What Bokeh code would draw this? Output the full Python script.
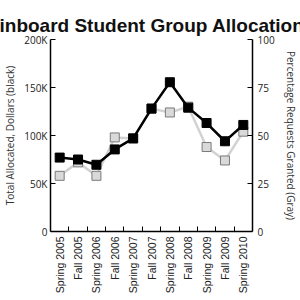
from bokeh.plotting import figure
from bokeh.models import (Range1d, LinearAxis, FixedTicker, CustomJSTickFormatter, Title)
from bokeh.embed import file_html
from bokeh.resources import INLINE

terms = ["Spring 2005", "Fall 2005", "Spring 2006", "Fall 2006", "Spring 2007", "Fall 2007",
         "Spring 2008", "Fall 2008", "Spring 2009", "Fall 2009", "Spring 2010"]
allocated = [77000, 75000, 69500, 85500, 97000, 128000, 155500, 129000, 113000, 94000, 111000]
granted_pct = [29, 36, 29, 49, 48.5, 64, 62, 65, 44, 37, 52]
title_text = "Finboard Student Group Allocations"

x = list(range(len(terms)))

p = figure(width=300, height=300, output_backend="svg", toolbar_location=None,
           x_range=Range1d(-0.5, len(terms) - 0.5), y_range=Range1d(0, 200000),
           min_border_left=34, min_border_right=34, min_border_top=39, min_border_bottom=69)
p.outline_line_color = None
p.xgrid.visible = False
p.ygrid.visible = False
p.background_fill_color = "white"

p.extra_y_ranges = {"pct": Range1d(0, 100)}

t = Title(text=title_text, align="center", vertical_align="top", standoff=4,
          text_font="Liberation Sans", text_font_style="bold",
          text_font_size="19px", text_color="#111111")
p.add_layout(t, "above")

# spacer between frame and title (invisible)
spacer = Title(text=" ", standoff=10, text_font_size="1px", text_color=None)
p.add_layout(spacer, "above")

# gray series on right axis
p.line(x, granted_pct, y_range_name="pct", line_color="#d2d2d2", line_width=2.5)
p.scatter(x, granted_pct, y_range_name="pct", marker="square", size=9,
          fill_color="#d9d9d9", line_color="#7a7a7a", line_width=1)

# black series on left axis
p.line(x, allocated, line_color="black", line_width=2.5)
p.scatter(x, allocated, marker="square", size=9, fill_color="black", line_color="black")

# x axis
xa = p.xaxis[0]
xa.ticker = FixedTicker(ticks=x, minor_ticks=[i + 0.5 for i in x[:-1]])
xa.major_label_overrides = {i: t for i, t in enumerate(terms)}
xa.major_label_orientation = 1.5708
xa.major_tick_in = 0
xa.major_tick_out = 0
xa.minor_tick_in = 5
xa.minor_tick_out = 0
xa.minor_tick_line_color = "black"
xa.axis_line_color = "black"
xa.axis_line_width = 1.5
xa.major_label_text_font = "Liberation Sans"
xa.major_label_text_font_size = "10.5px"
xa.major_label_text_color = "#222222"
xa.major_label_standoff = 5

# left axis
ya = p.yaxis[0]
ya.ticker = FixedTicker(ticks=[0, 50000, 100000, 150000, 200000])
ya.formatter = CustomJSTickFormatter(code="return tick == 0 ? '0' : (tick/1000) + 'K';")
ya.axis_label = "Total Allocated, Dollars (black)"
ya.axis_label_text_font = "Open Sans"
ya.axis_label_text_font_style = "normal"
ya.axis_label_text_font_size = "10px"
ya.axis_label_text_color = "#333333"
ya.axis_label_standoff = 4
ya.major_tick_in = 5
ya.major_tick_out = 0
ya.minor_tick_line_color = None
ya.axis_line_color = "black"
ya.axis_line_width = 1.5
ya.major_label_text_font = "Open Sans"
ya.major_label_text_font_size = "10px"
ya.major_label_text_color = "#222222"
ya.major_label_standoff = 3

# right axis
ra = LinearAxis(y_range_name="pct", ticker=FixedTicker(ticks=[0, 25, 50, 75, 100]))
ra.axis_label = "Percentage Requests Granted (Gray)"
ra.axis_label_text_font = "Open Sans"
ra.axis_label_text_font_style = "normal"
ra.axis_label_text_font_size = "10px"
ra.axis_label_text_color = "#333333"
ra.axis_label_standoff = 6
ra.major_tick_in = 5
ra.major_tick_out = 0
ra.minor_tick_line_color = None
ra.axis_line_color = "black"
ra.axis_line_width = 1.5
ra.major_label_text_font = "Open Sans"
ra.major_label_text_font_size = "10px"
ra.major_label_text_color = "#222222"
ra.major_label_standoff = 5
p.add_layout(ra, "right")

open("out.html", "w").write(file_html(p, INLINE))
